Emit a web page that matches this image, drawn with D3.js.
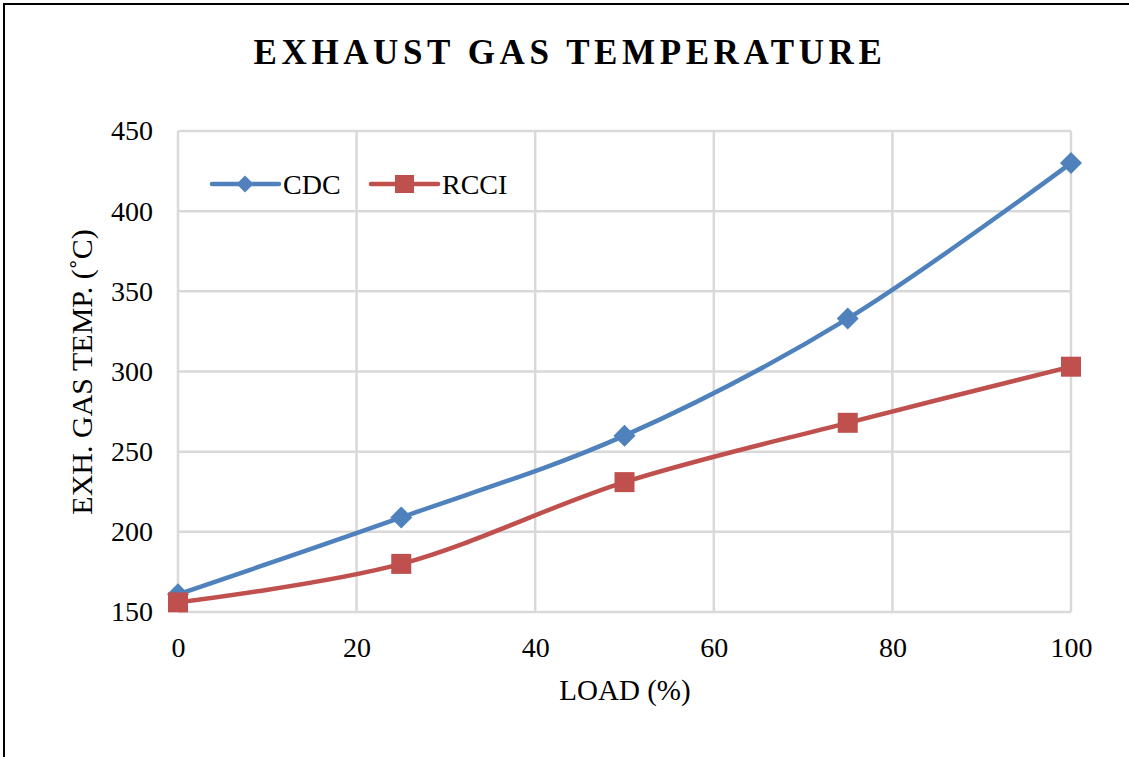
<!DOCTYPE html>
<html><head><meta charset="utf-8">
<script src="https://cdn.jsdelivr.net/npm/d3@7"></script>
<style>body{margin:0;background:#fff;}svg{display:block;}</style>
</head><body>
<script>
const loads = [0, 25, 50, 75, 100];
const cdc = [161, 209, 260, 333, 430];
const rcci = [156, 180, 231, 268, 303];
const xTicks = [0, 20, 40, 60, 80, 100];
const yTicks = [150, 200, 250, 300, 350, 400, 450];
const seriesNames = ["CDC", "RCCI"];
const colors = ["#4F81BD", "#C0504D"];

const W = 1129, H = 757;
const svg = d3.select("body").append("svg").attr("width", W).attr("height", H);
svg.append("rect").attr("width", W).attr("height", H).attr("fill", "#fff");
svg.append("rect").attr("x", 4).attr("y", 4).attr("width", 1140).attr("height", 800)
  .attr("fill", "none").attr("stroke", "#000").attr("stroke-width", 2);

const x = d3.scaleLinear().domain([0, 100]).range([178, 1071]);
const y = d3.scaleLinear().domain([150, 450]).range([612, 131]);
const font = "'Liberation Serif', 'Times New Roman', serif";
const fs = 28;

// gridlines
const g = svg.append("g");
g.selectAll(".vg").data(xTicks).join("line")
  .attr("x1", d => x(d)).attr("x2", d => x(d)).attr("y1", y(150)).attr("y2", y(450))
  .attr("stroke", "#d9d9d9").attr("stroke-width", 2.5);
g.selectAll(".hg").data(yTicks).join("line")
  .attr("x1", x(0)).attr("x2", x(100)).attr("y1", d => y(d)).attr("y2", d => y(d))
  .attr("stroke", "#d9d9d9").attr("stroke-width", 2.5);

// axes (labels only)
const xa = svg.append("g").attr("transform", `translate(0,${y(150)})`)
  .call(d3.axisBottom(x).tickValues(xTicks).tickSize(0).tickPadding(25));
const ya = svg.append("g").attr("transform", `translate(${x(0)},0)`)
  .call(d3.axisLeft(y).tickValues(yTicks).tickSize(0).tickPadding(25));
[xa, ya].forEach(a => {
  a.select(".domain").remove();
  a.selectAll("text").attr("font-family", font).attr("font-size", fs).attr("fill", "#000");
});

// title
svg.append("text").attr("x", 570).attr("y", 64).attr("text-anchor", "middle")
  .attr("font-family", font).attr("font-size", 35).attr("font-weight", "bold")
  .attr("letter-spacing", 4.6).text("EXHAUST GAS TEMPERATURE");

// axis titles
svg.append("text").attr("x", 625).attr("y", 700).attr("text-anchor", "middle")
  .attr("font-family", font).attr("font-size", 29).text("LOAD (%)");
svg.append("text").attr("transform", "translate(92,372) rotate(-90)").attr("text-anchor", "middle")
  .attr("font-family", font).attr("font-size", 30).text("EXH. GAS TEMP. (˚C)");

const line = d3.line().x(d => x(d[0])).y(d => y(d[1])).curve(d3.curveCatmullRom.alpha(0));
const series = [cdc, rcci];
const diamond = s => `M0,${-s}L${s},0L0,${s}L${-s},0Z`;

series.forEach((vals, i) => {
  const pts = loads.map((l, j) => [l, vals[j]]);
  svg.append("path").datum(pts).attr("d", line).attr("fill", "none")
    .attr("stroke", colors[i]).attr("stroke-width", 4.5).attr("stroke-linecap", "round");
});
series.forEach((vals, i) => {
  const pts = loads.map((l, j) => [l, vals[j]]);
  if (i === 0) {
    svg.selectAll(null).data(pts).join("path")
      .attr("transform", d => `translate(${x(d[0])},${y(d[1])})`)
      .attr("d", diamond(11)).attr("fill", colors[i]);
  } else {
    svg.selectAll(null).data(pts).join("rect")
      .attr("x", d => x(d[0]) - 10).attr("y", d => y(d[1]) - 10)
      .attr("width", 20).attr("height", 20).attr("fill", colors[i]);
  }
});

// legend
const legX = [212, 371];
seriesNames.forEach((n, i) => {
  const lx = legX[i], ly = 184, len = 67, mid = lx + 33;
  svg.append("line").attr("x1", lx).attr("x2", lx + len).attr("y1", ly).attr("y2", ly)
    .attr("stroke", colors[i]).attr("stroke-width", 4.5).attr("stroke-linecap", "round");
  if (i === 0) {
    svg.append("path").attr("transform", `translate(${mid},${ly})`).attr("d", diamond(8.5)).attr("fill", colors[i]);
  } else {
    svg.append("rect").attr("x", mid - 9).attr("y", ly - 9).attr("width", 19).attr("height", 18).attr("fill", colors[i]);
  }
  svg.append("text").attr("x", lx + len + 4).attr("y", ly + 10).attr("font-family", font)
    .attr("font-size", fs).text(n);
});
</script>
</body></html>
